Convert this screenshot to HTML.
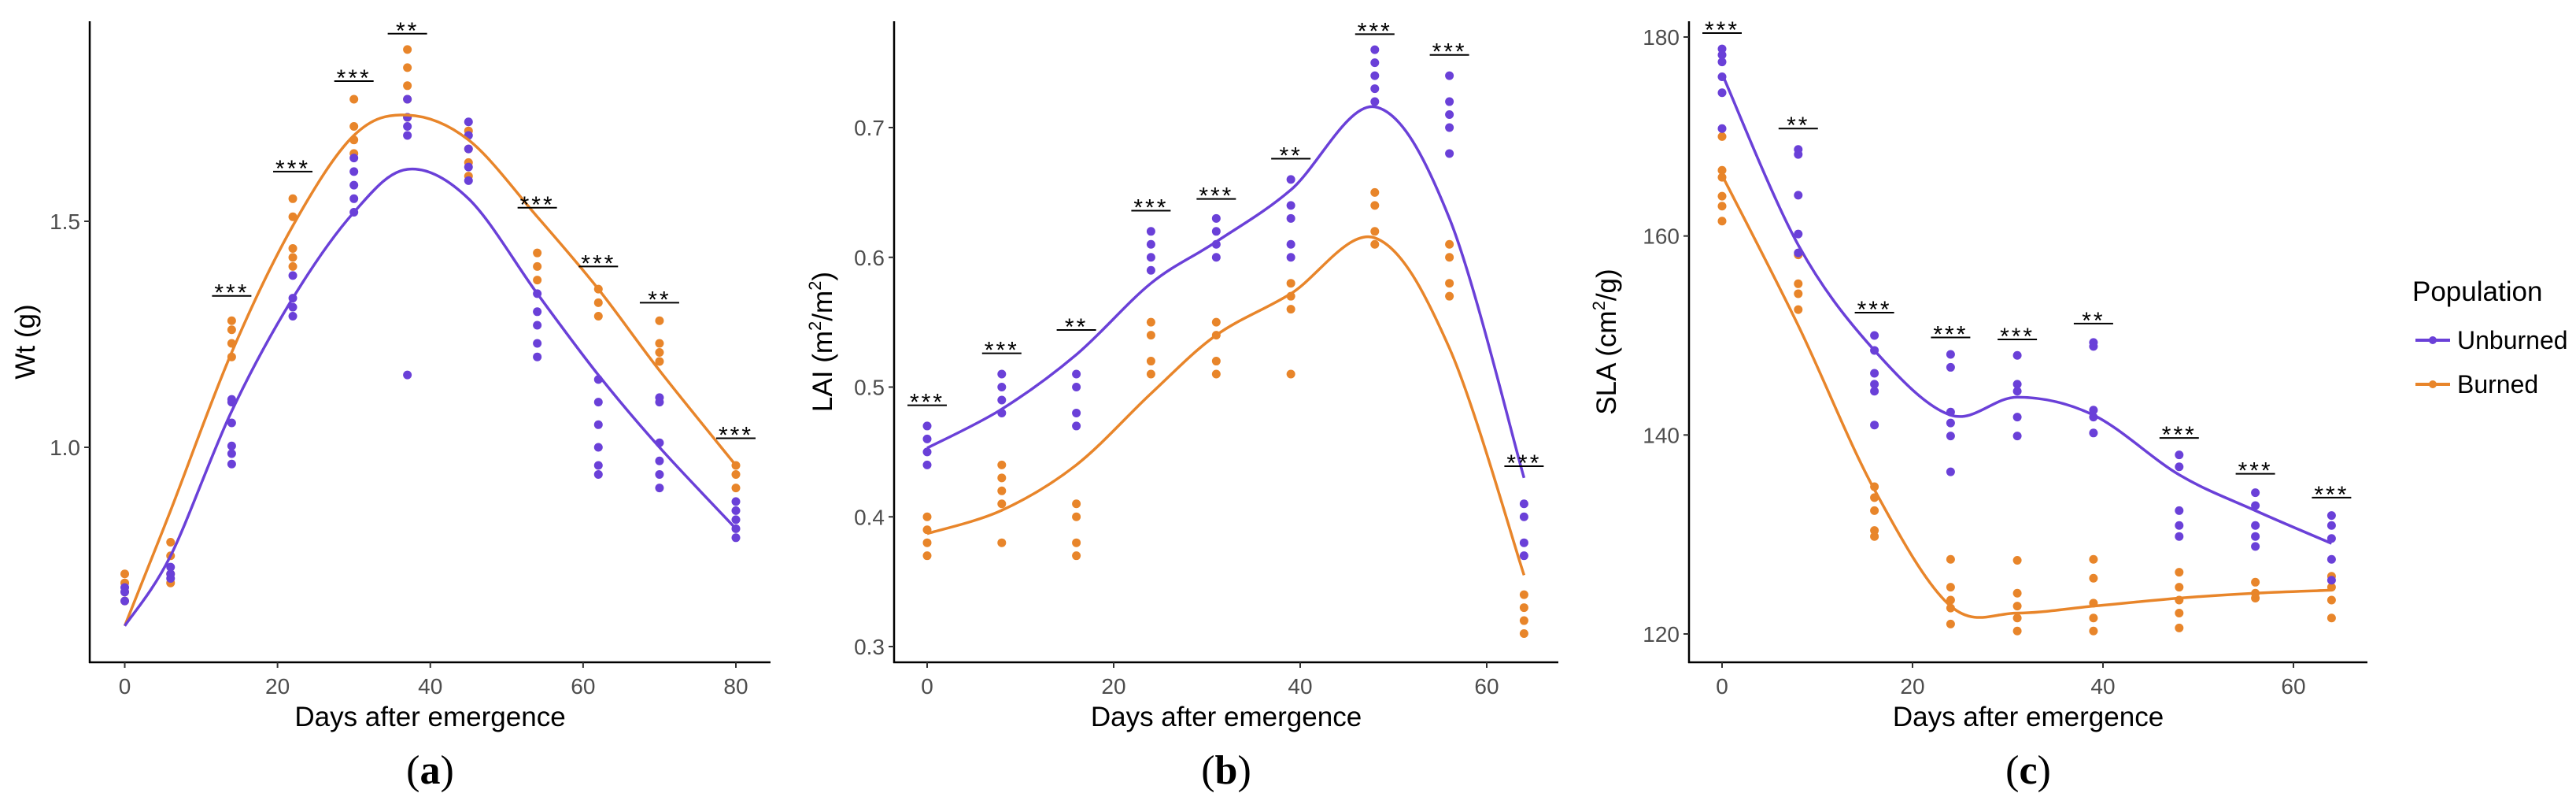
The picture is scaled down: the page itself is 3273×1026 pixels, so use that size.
<!DOCTYPE html>
<html><head><meta charset="utf-8"><style>
html,body{margin:0;padding:0;background:#fff;}
svg{display:block;font-family:"Liberation Sans",Arial,sans-serif;}
</style></head><body>
<svg id="fig" width="3273" height="1026" viewBox="0 0 3273 1026" xmlns="http://www.w3.org/2000/svg">
<g id="legend">
  <text x="3065" y="382" font-size="35" fill="#000">Population</text>
  <g>
    <line x1="3069" y1="432" x2="3113" y2="432" stroke="#6a40d8" stroke-width="4"/>
    <circle cx="3091" cy="432" r="5" fill="#6a40d8"/>
    <text x="3122" y="443" font-size="32" fill="#000">Unburned</text>
  </g>
  <g>
    <line x1="3069" y1="488" x2="3113" y2="488" stroke="#e8852a" stroke-width="4"/>
    <circle cx="3091" cy="488" r="5" fill="#e8852a"/>
    <text x="3122" y="499" font-size="32" fill="#000">Burned</text>
  </g>
</g>
</svg>
<script>
// ---- Panel (a) Wt ----
const aDays = [0, 6, 14, 22, 30, 37, 45, 54, 62, 70, 80];
const aUnburnedPts = [[0.66,0.68,0.69],[0.71,0.72,0.735],[0.963,0.986,1.003,1.054,1.1,1.106],[1.29,1.31,1.33,1.38],[1.52,1.55,1.58,1.61,1.64],[1.16,1.69,1.71,1.73,1.77],[1.59,1.62,1.66,1.69,1.72],[1.20,1.23,1.27,1.30,1.34],[0.94,0.96,1.0,1.05,1.10,1.15],[0.91,0.94,0.97,1.01,1.1,1.11],[0.80,0.82,0.84,0.86,0.88]];
const aBurnedPts = [[0.66,0.68,0.70,0.72],[0.70,0.72,0.76,0.79],[1.20,1.23,1.26,1.28],[1.40,1.42,1.44,1.51,1.55],[1.65,1.68,1.71,1.77],[1.73,1.77,1.80,1.84,1.88],[1.60,1.63,1.66,1.70],[1.37,1.40,1.43],[1.29,1.32,1.35],[1.19,1.21,1.23,1.28],[0.91,0.94,0.96]];
const aUnburnedFit = [0.605, 0.76, 1.08, 1.33, 1.52, 1.615, 1.55, 1.34, 1.16, 1.0, 0.82];
const aBurnedFit = [0.605, 0.86, 1.21, 1.49, 1.69, 1.735, 1.68, 1.51, 1.35, 1.17, 0.96];
const aSigDays = [14, 22, 30, 37, 54, 62, 70, 80];
const aSigLabels = ["***","***","***","**","***","***","**","***"];
const aSigY = [1.335, 1.61, 1.81, 1.915, 1.53, 1.40, 1.32, 1.02];
const aYTicks = [1.0, 1.5];
const aYTickLabels = ["1.0", "1.5"];
const aXTicks = [0, 20, 40, 60, 80];

// ---- Panel (b) LAI ----
const bDays = [0, 8, 16, 24, 31, 39, 48, 56, 64];
const bUnburnedPts = [[0.44,0.45,0.46,0.47],[0.48,0.49,0.50,0.51],[0.47,0.48,0.50,0.51],[0.59,0.60,0.61,0.62],[0.60,0.61,0.62,0.63],[0.60,0.61,0.63,0.64,0.66],[0.72,0.73,0.74,0.75,0.76],[0.68,0.70,0.71,0.72,0.74],[0.37,0.38,0.40,0.41]];
const bBurnedPts = [[0.37,0.38,0.39,0.40],[0.38,0.41,0.42,0.43,0.44],[0.37,0.38,0.40,0.41],[0.51,0.52,0.54,0.55],[0.51,0.52,0.54,0.55],[0.51,0.56,0.57,0.58],[0.61,0.62,0.64,0.65],[0.57,0.58,0.60,0.61],[0.31,0.32,0.33,0.34]];
const bUnburnedFit = [0.453, 0.483, 0.525, 0.58, 0.612, 0.652, 0.716, 0.63, 0.43];
const bBurnedFit = [0.387, 0.405, 0.44, 0.495, 0.54, 0.572, 0.615, 0.53, 0.355];
const bSigDays = [0, 8, 16, 24, 31, 39, 48, 56, 64];
const bSigLabels = ["***","***","**","***","***","**","***","***","***"];
const bSigY = [0.486, 0.526, 0.544, 0.636, 0.645, 0.676, 0.772, 0.756, 0.439];
const bYTicks = [0.3, 0.4, 0.5, 0.6, 0.7];
const bYTickLabels = ["0.3", "0.4", "0.5", "0.6", "0.7"];
const bXTicks = [0, 20, 40, 60];

// ---- Panel (c) SLA ----
const cDays = [0, 8, 16, 24, 31, 39, 48, 56, 64];
const cUnburnedPts = [[170.8,174.4,176,177.5,178.2,178.8],[158.3,160.2,164.1,168.2,168.7],[141,144.4,145.1,146.2,148.5,150],[136.3,139.9,141.2,142.3,146.8,148.1],[139.9,141.8,144.4,145.1,148],[140.2,141.8,142.5,148.9,149.3],[129.8,130.9,132.4,136.8,138],[128.8,129.8,130.9,132.9,134.2],[125.4,127.5,129.6,130.9,131.9]];
const cBurnedPts = [[161.5,163,164,165.9,166.6,170],[152.6,154.2,155.2,158.1],[129.8,130.4,132.4,133.7,134.8],[121,122.6,123.4,124.7,127.5],[120.3,121.6,122.8,124.1,127.4],[120.3,121.6,123.1,125.6,127.5],[120.6,122.1,123.4,124.7,126.2],[123.6,124.1,125.2],[121.6,123.4,124.7,125.8]];
const cUnburnedFit = [176.3, 159.1, 148.5, 142, 143.8, 142, 136, 132.4, 129.1];
const cBurnedFit = [166.1, 151, 134.5, 122.8, 122.1, 122.8, 123.6, 124.1, 124.4];
const cSigDays = [0, 8, 16, 24, 31, 39, 48, 56, 64];
const cSigLabels = ["***","**","***","***","***","**","***","***","***"];
const cSigY = [180.4, 170.8, 152.3, 149.8, 149.6, 151.2, 139.7, 136.1, 133.7];
const cYTicks = [120, 140, 160, 180];
const cYTickLabels = ["120", "140", "160", "180"];
const cXTicks = [0, 20, 40, 60];

const NS = "http://www.w3.org/2000/svg";
const svg = document.getElementById('fig');
const PURPLE = "#6a40d8", ORANGE = "#e8852a";

function mk(tag, attrs, parent) {
  const e = document.createElementNS(NS, tag);
  for (const k in attrs) e.setAttribute(k, attrs[k]);
  (parent || svg).appendChild(e);
  return e;
}
function smoothPath(pts) {
  let d = "M" + pts[0][0] + "," + pts[0][1];
  for (let i = 0; i < pts.length - 1; i++) {
    const p0 = pts[Math.max(0, i - 1)], p1 = pts[i], p2 = pts[i + 1], p3 = pts[Math.min(pts.length - 1, i + 2)];
    const c1x = p1[0] + (p2[0] - p0[0]) / 6, c1y = p1[1] + (p2[1] - p0[1]) / 6;
    const c2x = p2[0] - (p3[0] - p1[0]) / 6, c2y = p2[1] - (p3[1] - p1[1]) / 6;
    d += " C" + c1x + "," + c1y + " " + c2x + "," + c2y + " " + p2[0] + "," + p2[1];
  }
  return d;
}

function panel(cfg) {
  const g = mk('g', {});
  
  
  const X = d => cfg.x0 + (d - cfg.d0) * cfg.xs / (cfg.d1 - cfg.d0);
  const Y = v => cfg.y0 - (v - cfg.v0) * cfg.ys / (cfg.v1 - cfg.v0);
  // points
  const series = [[cfg.bPts, ORANGE, 'burned'], [cfg.uPts, PURPLE, 'unburned']];
  series.forEach(([pts, col, nm]) => {
    const sg = mk('g', {}, g);
    
    
    pts.forEach((arr, i) => arr.forEach(v => {
      const c = mk('circle', {cx: X(cfg.days[i]), cy: Y(v), r: 5.5, fill: col}, sg);
      
      
    }));
  });
  // fit lines
  [[cfg.bFit, ORANGE, 'burned'], [cfg.uFit, PURPLE, 'unburned']].forEach(([fit, col, nm]) => {
    const pts = fit.map((v, i) => [X(cfg.days[i]), Y(v)]);
    const p = mk('path', {d: smoothPath(pts), fill: 'none', stroke: col, 'stroke-width': 3.5, 'stroke-linejoin': 'round'}, g);
    
    
  });
  // significance
  cfg.sigDays.forEach((d, i) => {
    const sx = X(d), sy = Y(cfg.sigY[i]);
    const l = mk('line', {x1: sx - 25, x2: sx + 25, y1: sy, y2: sy, stroke: '#000', 'stroke-width': 2}, g);
    
    
    const t = mk('text', {x: sx, y: sy + 6, 'text-anchor': 'middle', 'font-size': 30, 'letter-spacing': 3, fill: '#000'}, g);
    t.textContent = cfg.sigLabels[i];
    
    
  });
  // axes
  const ya = mk('line', {x1: cfg.axL, x2: cfg.axL, y1: 27, y2: cfg.axB + 1, stroke: '#000', 'stroke-width': 2.5}, g);
  
  
  const xa = mk('line', {x1: cfg.axL - 1, x2: cfg.axR, y1: cfg.axB, y2: cfg.axB, stroke: '#000', 'stroke-width': 2.5}, g);
  
  
  cfg.yTicks.forEach((v, i) => {
    const ty = Y(v);
    mk('line', {x1: cfg.axL - 7, x2: cfg.axL, y1: ty, y2: ty, stroke: '#333', 'stroke-width': 2}, g);
    const t = mk('text', {x: cfg.axL - 12, y: ty + 10, 'text-anchor': 'end', 'font-size': 28, fill: '#4d4d4d'}, g);
    t.textContent = cfg.yTickLabels[i];
    
    
  });
  cfg.xTicks.forEach(d => {
    const tx = X(d);
    mk('line', {x1: tx, x2: tx, y1: cfg.axB, y2: cfg.axB + 7, stroke: '#333', 'stroke-width': 2}, g);
    const t = mk('text', {x: tx, y: cfg.axB + 40, 'text-anchor': 'middle', 'font-size': 28, fill: '#4d4d4d'}, g);
    t.textContent = String(d);
    
    
  });
  const xt = mk('text', {x: (cfg.axL + cfg.axR) / 2, y: 922, 'text-anchor': 'middle', 'font-size': 35, fill: '#000'}, g);
  xt.textContent = 'Days after emergence';
  
  
  const yt = mk('text', {x: 0, y: 0, 'text-anchor': 'middle', 'font-size': 35, fill: '#000', transform: 'translate(' + (cfg.ytX + 12) + ',434) rotate(-90)'}, g);
  yt.innerHTML = cfg.ytHTML;
  
  
  const pl = mk('text', {x: (cfg.axL + cfg.axR) / 2, y: 995, 'text-anchor': 'middle', 'font-size': 52, fill: '#000', 'font-family': '"Liberation Serif", serif'}, g);
  pl.innerHTML = '(<tspan font-weight="bold">' + cfg.letter + '</tspan>)';
  
  
}

panel({name: 'panel-a-wt', letter: 'a', days: aDays, uPts: aUnburnedPts, bPts: aBurnedPts, uFit: aUnburnedFit, bFit: aBurnedFit,
  sigDays: aSigDays, sigLabels: aSigLabels, sigY: aSigY, yTicks: aYTicks, yTickLabels: aYTickLabels, xTicks: aXTicks,
  x0: 158.5, d0: 0, d1: 80, xs: 776.5, y0: 568, v0: 1.0, v1: 1.5, ys: 287, axL: 114, axR: 979, axB: 841, ytX: 32,
  ytHTML: 'Wt (g)'});
panel({name: 'panel-b-lai', letter: 'b', days: bDays, uPts: bUnburnedPts, bPts: bBurnedPts, uFit: bUnburnedFit, bFit: bBurnedFit,
  sigDays: bSigDays, sigLabels: bSigLabels, sigY: bSigY, yTicks: bYTicks, yTickLabels: bYTickLabels, xTicks: bXTicks,
  x0: 1178, d0: 0, d1: 60, xs: 711, y0: 821, v0: 0.3, v1: 0.7, ys: 659, axL: 1136, axR: 1980, axB: 841, ytX: 1045,
  ytHTML: 'LAI  (m<tspan font-size="22" dy="-14">2</tspan><tspan dy="14">/m</tspan><tspan font-size="22" dy="-14">2</tspan><tspan dy="14">)</tspan>'});
panel({name: 'panel-c-sla', letter: 'c', days: cDays, uPts: cUnburnedPts, bPts: cBurnedPts, uFit: cUnburnedFit, bFit: cBurnedFit,
  sigDays: cSigDays, sigLabels: cSigLabels, sigY: cSigY, yTicks: cYTicks, yTickLabels: cYTickLabels, xTicks: cXTicks,
  x0: 2188, d0: 0, d1: 60, xs: 726, y0: 805, v0: 120, v1: 180, ys: 758, axL: 2146, axR: 3008, axB: 841, ytX: 2041,
  ytHTML: 'SLA  (cm<tspan font-size="22" dy="-14">2</tspan><tspan dy="14">/g)</tspan>'});
</script>
</body></html>
